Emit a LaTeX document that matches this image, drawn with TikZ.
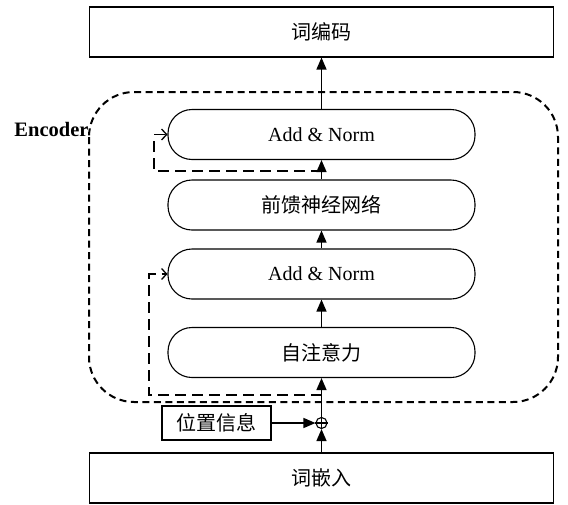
\documentclass[tikz,border=0pt]{standalone}
\usepackage{fontspec}
\setmainfont{Liberation Serif}
\newfontfamily\cjk{Noto Sans CJK SC}
\usetikzlibrary{arrows.meta}
\begin{document}
\begin{tikzpicture}[x=1pt,y=-1pt,
  every node/.style={font=\fontsize{20}{24}\selectfont},
  plainbox/.style={draw, line width=1.1pt, inner sep=0pt},
  stadium/.style={draw, line width=1.1pt, rounded corners=24pt, inner sep=0pt,
                  minimum width=307pt, minimum height=50pt},
  mainarrow/.style={line width=1.4pt, -{Triangle[length=12pt,width=10pt]}},
  resdash/.style={line width=1.6pt, dash pattern=on 11pt off 6pt,
                  -{Straight Barb[length=5pt,width=11pt,line width=1.3pt]}},
  encdash/.style={line width=2pt, dash pattern=on 7pt off 4.5pt}
]
\useasboundingbox (0,0) rectangle (568,504);

% encoder frame and its label
\draw[encdash, rounded corners=45pt] (89,92) rectangle (558,402);
\node[anchor=east, font=\fontsize{20.5}{24}\selectfont\bfseries] (enc) at (92,129) {Encoder};

% output and input boxes
\node[plainbox, minimum width=464pt, minimum height=50pt] (out) at (321.5,32) {\cjk 词编码};
\node[plainbox, minimum width=464pt, minimum height=50pt] (emb) at (321.5,478) {\cjk 词嵌入};

% encoder layers
\node[stadium] (an1) at (321.5,134.5) {Add \& Norm};
\node[stadium] (ff)  at (321.5,205)   {\cjk 前馈神经网络};
\node[stadium] (an2) at (321.5,274)   {Add \& Norm};
\node[stadium] (sa)  at (321.5,352.5) {\cjk 自注意力};

% positional information and the adder
\node[plainbox, minimum width=109pt, minimum height=34pt] (pos) at (216.5,423) {\cjk 位置信息};
\node[circle, draw, line width=1.1pt, minimum size=11pt, inner sep=0pt] (plus) at (321.5,423) {};
\draw[line width=1.1pt] (plus.north) -- (plus.south) (plus.west) -- (plus.east);

% main data flow
\draw[mainarrow] (plus.south |- emb.north) -- (plus.south);
\draw[mainarrow] (pos.east) -- (plus.west);
\draw[mainarrow] (plus.north) -- (sa.south);
\draw[mainarrow] (sa.north) -- (an2.south);
\draw[mainarrow] (an2.north) -- (ff.south);
\draw[mainarrow] (ff.north) -- (an1.south);
\draw[mainarrow] (an1.north) -- (an1.north |- out.south);

% residual connections
\coordinate (r1) at (321.5,171);
\coordinate (r2) at (321.5,395);
\draw[resdash] (r1) -| (154,134.5) -- (an1.west);
\draw[resdash] (r2) -| (149,274) -- (an2.west);
\end{tikzpicture}
\end{document}
